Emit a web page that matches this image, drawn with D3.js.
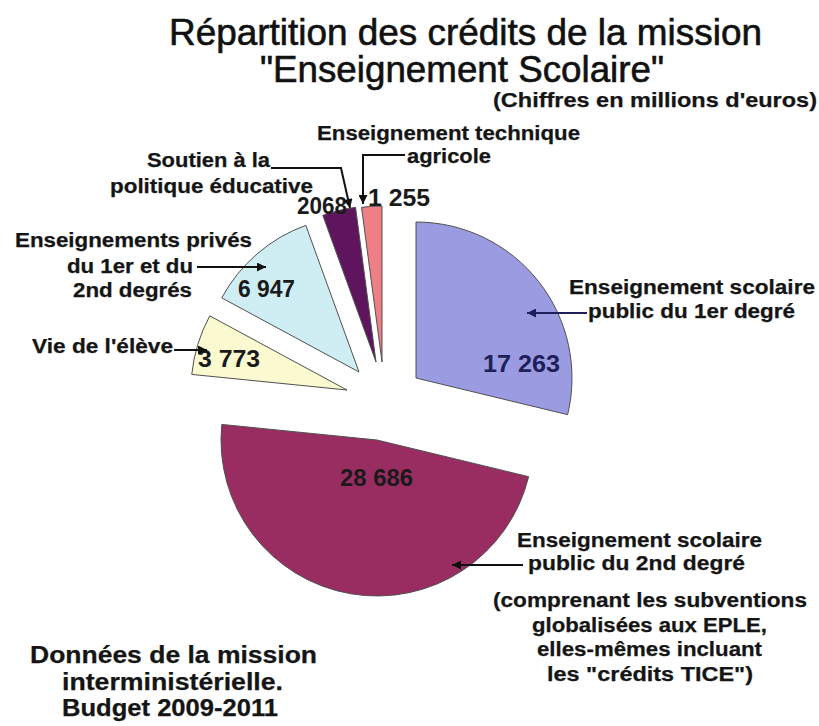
<!DOCTYPE html>
<html lang="fr">
<head>
    <meta charset="UTF-8">
    <title>Répartition des crédits de la mission Enseignement Scolaire</title>
    <script src="https://d3js.org/d3.v7.min.js"></script>
    <style>
        body {
            margin: 0;
            background: #ffffff;
            font-family: "Liberation Sans", Arial, sans-serif;
        }
        .lbl {
            font-weight: bold;
            font-size: 20px;
            fill: #151515;
            stroke: #151515;
            stroke-width: 0.25;
        }
        .num {
            font-weight: bold;
            font-size: 24px;
            fill: #1a1a1a;
        }
        .slice {
            stroke: #505050;
            stroke-width: 1;
        }
        .arrow-line {
            fill: none;
            stroke: #111;
            stroke-width: 2;
        }
    </style>
</head>
<body>
<svg id="chart" width="819" height="726"></svg>
<script>
// data (millions d'euros), in pie order starting at 12 o'clock, clockwise
const categories = [
    "Enseignement scolaire public du 1er degré",
    "Enseignement scolaire public du 2nd degré",
    "Vie de l'élève",
    "Enseignements privés du 1er et du 2nd degrés",
    "Soutien à la politique éducative",
    "Enseignement technique agricole"
];
const values = [17263, 28686, 3773, 6947, 2068, 1255];
const valueLabels = ["17 263", "28 686", "3 773", "6 947", "2068", "1 255"];

// styling / layout
const colors = ["#9b9be2", "#992d62", "#fbf9cf", "#cfeef3", "#5e155e", "#ef7f86"];
// where each exploded slice has its tip
const tips = [[416, 378], [377, 440], [347, 390], [359, 372], [376, 362], [382, 362]];
const radius = 156;

const svg = d3.select("#chart");

const defs = svg.append("defs");
function marker(id, color) {
    defs.append("marker")
        .attr("id", id)
        .attr("markerUnits", "userSpaceOnUse")
        .attr("viewBox", "0 0 10 10")
        .attr("refX", 10)
        .attr("refY", 5)
        .attr("markerWidth", 11)
        .attr("markerHeight", 9)
        .attr("orient", "auto")
        .append("path")
        .attr("d", "M0,0 L10,5 L0,10 z")
        .attr("fill", color);
}
marker("arr", "#111");
marker("arrNavy", "#1e1e5a");

// pie
const pie = d3.pie().sort(null).value(d => d)(values);
const arc = d3.arc().innerRadius(0).outerRadius(radius);

svg.selectAll("path.slice")
    .data(pie)
    .join("path")
    .attr("class", "slice")
    .attr("transform", (d, i) => `translate(${tips[i][0]},${tips[i][1]})`)
    .attr("d", arc)
    .attr("fill", (d, i) => colors[i]);

// text helper: x = left edge, w = measured width
function txt(x, y, s, w, cls, extra) {
    const t = svg.append("text")
        .attr("class", cls || "lbl")
        .attr("x", x)
        .attr("y", y)
        .text(s);
    if (w) t.attr("textLength", w).attr("lengthAdjust", "spacingAndGlyphs");
    if (extra) extra(t);
    return t;
}

// title
const titleStyle = t => t.style("font-weight", "normal").style("font-size", "36px")
    .style("fill", "#111").style("stroke", "#111").style("stroke-width", 0.6);
txt(169, 45, "Répartition des crédits de la mission", 593, null, titleStyle);
txt(260, 82, "\"Enseignement Scolaire\"", 404, null, titleStyle);
txt(493, 107, "(Chiffres en millions d'euros)", 324);

// value labels
const numPos = [[483, 372, 77], [340, 486, 73], [198, 367, 62], [238, 297, 57], [297, 214, 50], [368, 206, 62]];
valueLabels.forEach((s, i) => {
    const t = txt(numPos[i][0], numPos[i][1], s, numPos[i][2], "num");
    if (i === 0) t.style("fill", "#1e2058");
});

// category labels
txt(317, 140, "Enseignement technique", 263);
txt(407, 163, "agricole", 84);
txt(147, 167, "Soutien à la", 123);
txt(110, 193, "politique éducative", 203);
txt(15, 247, "Enseignements privés", 237);
txt(67, 273, "du 1er et du", 126);
txt(73, 297, "2nd degrés", 119);
txt(32, 353, "Vie de l'élève", 141);
txt(569, 294, "Enseignement scolaire", 246);
txt(588, 318, "public du 1er degré", 207);
txt(517, 547, "Enseignement scolaire", 245);
txt(528, 570, "public du 2nd degré", 217);
txt(493, 607, "(comprenant les subventions", 314);
txt(532, 632, "globalisées aux EPLE,", 235);
txt(537, 656, "elles-mêmes incluant", 225);
txt(547, 681, "les \"crédits TICE\")", 206);

// source note
const noteStyle = t => t.style("font-size", "23px");
txt(30, 663, "Données de la mission", 287, null, noteStyle);
txt(62, 690, "interministérielle.", 221, null, noteStyle);
txt(62, 716, "Budget 2009-2011", 216, null, noteStyle);

// leader arrows
const leaders = [
    {pts: [[405, 155], [363, 155], [363, 204]], m: "arr"},
    {pts: [[271, 168], [341, 168], [350, 208]], m: "arr"},
    {pts: [[197, 267], [266, 267]], m: "arr"},
    {pts: [[174, 350], [207, 350]], m: "arr"},
    {pts: [[587, 313], [527, 313]], m: "arrNavy", c: "#1e1e5a"},
    {pts: [[523, 565], [452, 565]], m: "arr"}
];
const line = d3.line();
leaders.forEach(l => {
    svg.append("path")
        .attr("class", "arrow-line")
        .attr("d", line(l.pts))
        .style("stroke", l.c || "#111")
        .attr("marker-end", `url(#${l.m})`);
});
</script>
</body>
</html>
